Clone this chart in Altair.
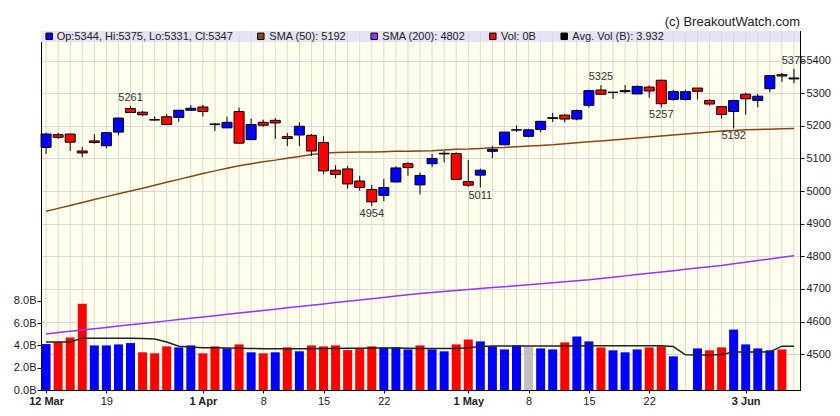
import altair as alt
import pandas as pd

# ---------------- data ----------------
dates = ["03-12","03-13","03-14","03-15","03-18","03-19","03-20","03-21","03-22","03-25",
         "03-26","03-27","03-28","04-01","04-02","04-03","04-04","04-05","04-08","04-09",
         "04-10","04-11","04-12","04-15","04-16","04-17","04-18","04-19","04-22","04-23",
         "04-24","04-25","04-26","04-29","04-30","05-01","05-02","05-03","05-06","05-07",
         "05-08","05-09","05-10","05-13","05-14","05-15","05-16","05-17","05-20","05-21",
         "05-22","05-23","05-24","05-27","05-28","05-29","05-30","05-31","06-03","06-04",
         "06-05","06-06","06-07"]
opens = [5134,5173,5175,5123,5154,5139,5181,5253,5242,5219,5228,5226,5248,5258,5204,5194,5244,5158,5211,5217,
         5167,5172,5171,5149,5064,5068,5031,5005,4987,5028,5084,5019,5084,5114,5115,5029,5049,5122,5142,5187,
         5168,5189,5225,5233,5221,5263,5310,5303,5305,5298,5319,5340,5281,5281,5316,5278,5259,5244,5297,5278,
         5314,5357,5344]
highs = [5179,5179,5176,5136,5175,5180,5225,5261,5246,5229,5236,5249,5264,5264,5208,5228,5256,5222,5219,5224,
         5178,5211,5175,5168,5079,5077,5047,5019,5038,5076,5089,5057,5114,5123,5119,5096,5069,5139,5181,5201,
         5191,5215,5240,5237,5250,5311,5325,5305,5325,5324,5324,5342,5311,5311,5316,5282,5260,5280,5302,5298,
         5355,5362,5375]
lows = [5114,5161,5123,5104,5145,5131,5171,5240,5229,5216,5203,5213,5246,5229,5184,5194,5146,5157,5197,5160,
        5138,5138,5108,5052,5039,5007,5001,4954,4969,5027,5047,4990,5073,5088,5035,5013,5011,5101,5142,5181,
        5165,5180,5212,5211,5217,5256,5296,5283,5299,5297,5286,5257,5278,5278,5281,5262,5222,5192,5234,5257,
        5303,5335,5331]
closes = [5175,5165,5150,5117,5149,5179,5224,5241,5234,5218,5204,5248,5254,5244,5206,5211,5147,5204,5202,5209,
          5161,5199,5123,5062,5051,5022,5011,4967,5011,5071,5072,5048,5100,5116,5036,5018,5064,5128,5181,5188,
          5188,5214,5223,5221,5247,5308,5297,5303,5308,5321,5307,5268,5305,5305,5306,5267,5235,5278,5283,5291,
          5354,5353,5347]
volume_b = [4.12,4.30,4.71,7.73,4.00,4.00,4.09,4.21,3.38,3.29,3.91,3.82,4.00,3.29,3.91,3.73,4.09,3.38,3.29,3.38,
            3.82,3.47,4.00,3.91,4.00,3.58,3.67,3.91,3.82,3.82,3.64,4.00,3.64,3.47,4.09,4.53,4.36,3.91,3.64,4.00,
            3.85,3.73,3.64,4.27,4.80,4.36,3.82,3.56,3.38,3.64,3.82,3.91,3.02,0.00,3.73,3.56,3.82,5.42,4.09,3.73,
            3.56,3.64,0.00]
volume_dir = ["b","r","r","r","b","b","b","b","r","r","r","b","b","r","r","b","r","b","r","b",
              "r","b","r","r","r","r","r","r","b","b","b","r","b","b","r","r","b","b","b","b",
              "g","b","b","r","b","b","r","b","b","b","r","r","b","b","b","r","r","b","b","b",
              "b","r","r"]
avg_vol_b = [4.30,4.30,4.30,4.65,4.65,4.65,4.65,4.65,4.62,4.58,4.30,3.92,3.85,3.80,3.78,3.76,3.75,3.73,3.71,3.70,
             3.70,3.70,3.71,3.72,3.73,3.74,3.75,3.76,3.76,3.76,3.75,3.72,3.72,3.72,3.72,3.78,3.90,3.94,3.95,3.95,
             3.95,3.95,3.95,3.95,3.95,3.96,3.96,3.96,3.97,3.97,3.97,3.96,3.90,3.16,3.15,3.15,3.18,3.40,3.40,3.40,
             3.42,3.93,3.93]
sma50 = [4938,4947,4956,4965,4974,4983,4992,5000,5009,5018,5027,5036,5045,5054,5062,5070,5078,5084,5090,5095,
         5101,5106,5112,5116,5118,5119,5120,5120,5121,5122,5122,5123,5124,5126,5128,5129,5131,5133,5134,5136,
         5138,5140,5142,5145,5148,5151,5154,5157,5160,5163,5166,5169,5172,5175,5178,5181,5184,5186,5188,5189,
         5190,5191,5192]
sma200 = [4562,4566,4570,4574,4578,4582,4586,4590,4594,4598,4602,4606,4610,4614,4618,4622,4626,4630,4634,4638,
          4642,4646,4650,4654,4658,4662,4666,4670,4674,4678,4682,4686,4689,4692,4695,4698,4701,4704,4707,4710,
          4713,4716,4719,4722,4725,4728,4732,4736,4740,4744,4748,4752,4756,4760,4764,4768,4772,4777,4782,4787,
          4792,4797,4802]

tick_slots = [0, 5, 13, 18, 23, 28, 35, 40, 45, 50, 58]
tick_labels = ["12 Mar", "19", "1 Apr", "8", "15", "22", "1 May", "8", "15", "22", "3 Jun"]
bold_slots = [0, 13, 35, 58]

note_slots = [7, 46, 62, 27, 36, 51, 57]
note_values = [5261, 5325, 5375, 4954, 5011, 5257, 5192]
note_side = ["above", "above", "above", "below", "below", "below", "below"]

# ---------------- styling ----------------
W, H = 759, 359
BLUE, RED, GRAY = "#0000ff", "#ff0000", "#c0c0c0"
BROWN, PURPLE = "#8b4513", "#9b30ff"
FONT = "Liberation Sans"
GRID = "#d9d9d9"

slots = list(range(len(dates)))
df = pd.DataFrame({
    "slot": slots, "date": dates, "open": opens, "high": highs, "low": lows, "close": closes,
    "vol": volume_b, "avg": avg_vol_b, "sma50": sma50, "sma200": sma200,
})
df["body_color"] = [BLUE if c >= o else RED for o, c in zip(opens, closes)]
df["vol_color"] = [{"b": BLUE, "r": RED, "g": GRAY}[d] for d in volume_dir]
vol_df = df[df["vol"] > 0]

notes = pd.DataFrame({"slot": note_slots, "val": note_values, "side": note_side})

x_scale = alt.Scale(domain=[-0.42, 62.5], nice=False, zero=False, padding=0)
price_scale = alt.Scale(domain=[4390, 5491], nice=False, zero=False, padding=0)
vol_scale = alt.Scale(domain=[0, 32.2], nice=False, zero=False, padding=0)

labels_js = "[" + ",".join("'" + t + "'" for t in tick_labels) + "]"
slots_js = "[" + ",".join(str(s) for s in tick_slots) + "]"
bold_js = "[" + ",".join(str(s) for s in bold_slots) + "]"

x_axis = alt.Axis(
    values=tick_slots, labelExpr=f"{labels_js}[indexof({slots_js}, datum.value)]",
    grid=False, domainColor="black", tickColor="black", tickSize=3, labelPadding=2,
    labelFont=FONT, labelFontSize=11, labelColor="#222", labelFlush=False, labelOverlap=False,
    labelFontWeight={"condition": {"test": f"indexof({bold_js}, datum.value) >= 0", "value": "bold"},
                     "value": "normal"},
    title=None,
)
price_axis = alt.Axis(
    orient="right", values=list(range(4500, 5401, 100)), format="d", grid=True, gridColor=GRID,
    domainColor="black", tickColor="black", tickSize=4, labelPadding=2,
    labelFont=FONT, labelFontSize=11, labelColor="#222", title=None,
)
vol_axis = alt.Axis(
    orient="left", values=[0, 2, 4, 6, 8], labelExpr="format(datum.value, '.1f') + 'B'",
    grid=False, domainColor="black", tickColor="black", tickSize=4, labelPadding=1,
    labelFont=FONT, labelFontSize=11, labelColor="#222", title=None,
)

X = alt.X("slot:Q", scale=x_scale, axis=x_axis)


def PY(field):
    return alt.Y(field, type="quantitative", scale=price_scale, axis=price_axis)


def VY(field):
    return alt.Y(field, type="quantitative", scale=vol_scale, axis=vol_axis)


base = alt.Chart(df)
one = pd.DataFrame({"t": [""]})

band = alt.Chart(one).mark_rect(color="#e4e4f6").encode(
    x=alt.value(0), x2=alt.value(W), y=alt.value(0), y2=alt.value(11))
vgrid = base.mark_rule(color=GRID, strokeWidth=1).encode(x=X)
vol_bars = alt.Chart(vol_df).mark_bar(size=9).encode(
    x=X, y=VY("vol"), color=alt.Color("vol_color:N", scale=None, legend=None))
avg_line = base.mark_line(color="#222", strokeWidth=1.5).encode(x=X, y=VY("avg"))

vol_group = alt.layer(band, vgrid, vol_bars, avg_line)

sma200_line = base.mark_line(color=PURPLE, strokeWidth=1.5).encode(x=X, y=PY("sma200"))
sma50_line = base.mark_line(color=BROWN, strokeWidth=1.5).encode(x=X, y=PY("sma50"))
wicks = base.mark_rule(color="black", strokeWidth=1).encode(x=X, y=PY("low"), y2="high:Q")
bodies = base.mark_bar(size=10, stroke="black", strokeWidth=1).encode(
    x=X, y=PY("open"), y2="close:Q", color=alt.Color("body_color:N", scale=None, legend=None))
notes_above = alt.Chart(notes[notes["side"] == "above"]).mark_text(
    font=FONT, fontSize=11, color="#333", baseline="middle", dy=-8).encode(
    x=X, y=PY("val"), text="val:Q")
notes_below = alt.Chart(notes[notes["side"] == "below"]).mark_text(
    font=FONT, fontSize=11, color="#333", baseline="middle", dy=8).encode(
    x=X, y=PY("val"), text="val:Q")

# legend strip (texts built from the last values)
legend_texts = [
    f"Op:{opens[-1]}, Hi:{highs[-1]}, Lo:{lows[-1]}, Cl:{closes[-1]}",
    f"SMA (50): {sma50[-1]}",
    f"SMA (200): {sma200[-1]}",
    f"Vol: {volume_b[-1]:.0f}B",
    "Avg. Vol (B): 3.932",
]
legend_colors = [BLUE, BROWN, PURPLE, RED, "black"]
legend_sq_x = [8.2, 219.8, 333.2, 451.8, 523.2]
legend_tx_x = [15.7, 228.3, 341.3, 460.0, 531.3]

legend_layers = []
for t, c, sx, tx in zip(legend_texts, legend_colors, legend_sq_x, legend_tx_x):
    legend_layers.append(alt.Chart(one).mark_square(size=42, color=c, opacity=1, stroke="black",
                                                    strokeWidth=1).encode(x=alt.value(sx), y=alt.value(5.3)))
    legend_layers.append(alt.Chart(pd.DataFrame({"t": [t]})).mark_text(
        align="left", baseline="middle", font=FONT, fontSize=11, color="#222").encode(
        x=alt.value(tx), y=alt.value(5.5), text="t:N"))

copyright_mark = alt.Chart(pd.DataFrame({"t": ["(c) BreakoutWatch.com"]})).mark_text(
    align="right", baseline="middle", font=FONT, fontSize=13, color="#222").encode(
    x=alt.value(W), y=alt.value(-9.5), text="t:N")

price_group = alt.layer(sma200_line, sma50_line, wicks, bodies, notes_above, notes_below,
                        *legend_layers, copyright_mark)

chart = alt.layer(vol_group, price_group).resolve_scale(y="independent").properties(
    width=W, height=H,
    autosize=alt.AutoSizeParams(type="none"),
    padding={"left": 41, "top": 31, "right": 40, "bottom": 26},
    background="white",
).configure_view(fill="#ffffee", stroke="black", strokeWidth=1)

chart.save("out.html", embed_options={"renderer": "svg", "actions": False})
